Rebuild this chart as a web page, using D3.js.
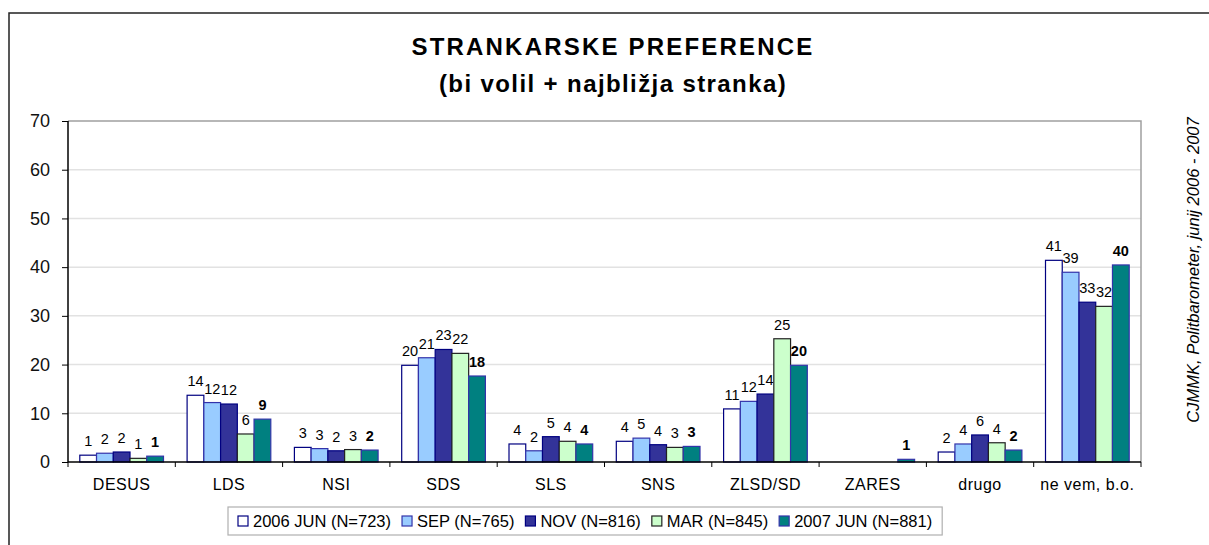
<!DOCTYPE html>
<html>
<head>
<meta charset="utf-8">
<script src="https://cdn.jsdelivr.net/npm/d3@7.9.0/dist/d3.min.js"></script>
<style>
  body { margin: 0; background: #fff; }
  svg { display: block; font-family: Arial, "Liberation Sans", sans-serif; }
</style>
</head>
<body>
<svg id="chart" width="1209" height="545"></svg>
<script>
// categories and series
const categories = ['DESUS', 'LDS', 'NSI', 'SDS', 'SLS', 'SNS', 'ZLSD/SD', 'ZARES', 'drugo', 'ne vem, b.o.'];
const seriesNames = ['2006 JUN (N=723)', 'SEP (N=765)', 'NOV (N=816)', 'MAR (N=845)', '2007 JUN (N=881)'];
const jun2006 = [1.4, 13.7, 3.0, 19.85, 3.7, 4.25, 10.9, null, 2.05, 41.4];
const sep2006 = [1.8, 12.2, 2.75, 21.4, 2.3, 4.9, 12.45, null, 3.7, 38.95];
const nov2006 = [2.05, 11.9, 2.3, 23.1, 5.2, 3.55, 13.95, null, 5.55, 32.8];
const mar2007 = [0.75, 5.75, 2.55, 22.3, 4.25, 3.0, 25.3, null, 3.95, 31.95];
const jun2007 = [1.2, 8.8, 2.45, 17.65, 3.7, 3.2, 19.85, 0.55, 2.45, 40.45];
const yTicks = [0, 10, 20, 30, 40, 50, 60, 70];

const seriesValues = [jun2006, sep2006, nov2006, mar2007, jun2007];
const fills = ['#ffffff', '#99ccff', '#333399', '#ccffcc', '#008080'];
const strokes = ['#000080', '#3333aa', '#000080', '#222222', '#3333aa'];

const svg = d3.select('#chart');
const margin = { left: 68, top: 121, right: 1141, bottom: 462 };

// outer frame (runs past the right and bottom edge)
svg.append('rect')
  .attr('x', 9).attr('y', 13).attr('width', 1220).attr('height', 560)
  .attr('fill', 'none').attr('stroke', '#222').attr('stroke-width', 1.5);

// titles
svg.append('text').attr('x', 613).attr('y', 55).attr('text-anchor', 'middle')
  .attr('font-size', 24).attr('font-weight', 'bold').attr('letter-spacing', 2.2)
  .text('STRANKARSKE PREFERENCE');
svg.append('text').attr('x', 613).attr('y', 92).attr('text-anchor', 'middle')
  .attr('font-size', 24).attr('font-weight', 'bold').attr('letter-spacing', 1.4)
  .text('(bi volil + najbližja stranka)');

const x0 = d3.scaleBand().domain(categories)
  .range([margin.left, margin.right]).paddingInner(0.22).paddingOuter(0.11);
const x1 = d3.scaleBand().domain(d3.range(seriesNames.length))
  .range([0, x0.bandwidth()]);
const y = d3.scaleLinear().domain([0, 70]).range([margin.bottom, margin.top]);

// gridlines
svg.append('g').selectAll('line').data(yTicks.filter(t => t > 0 && t < 70)).join('line')
  .attr('x1', margin.left).attr('x2', margin.right)
  .attr('y1', d => y(d)).attr('y2', d => y(d))
  .attr('stroke', '#e2e2e2').attr('stroke-width', 1.5);

// plot area border top/right
svg.append('path')
  .attr('d', `M${margin.left},${y(70)}H${margin.right}V${margin.bottom}`)
  .attr('fill', 'none').attr('stroke', '#a0a0a0').attr('stroke-width', 1.5);

// bars
const groups = svg.append('g').selectAll('g').data(categories).join('g')
  .attr('transform', d => `translate(${x0(d)},0)`);

seriesValues.forEach((vals, si) => {
  groups.each(function (cat, ci) {
    const v = vals[ci];
    if (v == null) return;
    const g = d3.select(this);
    g.append('rect')
      .attr('x', x1(si)).attr('width', x1.bandwidth())
      .attr('y', y(v)).attr('height', y(0) - y(v))
      .attr('fill', fills[si]).attr('stroke', strokes[si]).attr('stroke-width', 1.2);
    g.append('text')
      .attr('x', x1(si) + x1.bandwidth() / 2).attr('y', y(v) - 9)
      .attr('text-anchor', 'middle').attr('font-size', 14.5)
      .attr('font-weight', si === 4 ? 'bold' : 'normal')
      .text(Math.round(v));
  });
});

// y axis
const yAxis = svg.append('g').attr('transform', `translate(${margin.left},0)`)
  .call(d3.axisLeft(y).tickValues(yTicks).tickSize(6).tickPadding(12));
yAxis.select('.domain').attr('stroke', '#000').attr('stroke-width', 1.5).attr('d', `M0,${margin.top}V${margin.bottom}`);
yAxis.selectAll('.tick line').attr('stroke', '#000');
yAxis.selectAll('.tick text').attr('font-size', 18).attr('fill', '#111')
  .attr('font-family', 'Arial, "Liberation Sans", sans-serif');

// x axis: baseline and ticks between categories
svg.append('line').attr('x1', margin.left).attr('x2', margin.right)
  .attr('y1', margin.bottom).attr('y2', margin.bottom)
  .attr('stroke', '#000').attr('stroke-width', 1.5);
const step = x0.step();
svg.append('g').selectAll('line').data(d3.range(categories.length + 1)).join('line')
  .attr('x1', i => margin.left + i * step).attr('x2', i => margin.left + i * step)
  .attr('y1', margin.bottom).attr('y2', margin.bottom + 5)
  .attr('stroke', '#000');
svg.append('g').selectAll('text').data(categories).join('text')
  .attr('x', d => x0(d) + x0.bandwidth() / 2).attr('y', 490)
  .attr('text-anchor', 'middle').attr('font-size', 16).attr('letter-spacing', 0.5).text(d => d);

// source note
svg.append('text')
  .attr('transform', 'translate(1199,270) rotate(-90)')
  .attr('text-anchor', 'middle').attr('font-size', 16.5).attr('font-style', 'italic')
  .text('CJMMK, Politbarometer, junij 2006 - 2007');

// legend
const legend = svg.append('g');
const legendBox = legend.append('rect')
  .attr('fill', '#fff').attr('stroke', '#b0b0b0').attr('stroke-width', 1.2);
let lx = 0;
seriesNames.forEach((name, i) => {
  const item = legend.append('g').attr('transform', `translate(${lx},0)`);
  item.append('rect').attr('x', 0).attr('y', -11).attr('width', 10).attr('height', 10)
    .attr('fill', fills[i]).attr('stroke', strokes[i]).attr('stroke-width', 1.2);
  const t = item.append('text').attr('x', 15).attr('y', 0).attr('font-size', 16.5).text(name);
  lx += 15 + t.node().getComputedTextLength() + 11;
});
const legendWidth = lx - 11;
const legendLeft = 238;
legend.attr('transform', `translate(${legendLeft},527)`);
legendBox.attr('x', -10).attr('y', -20).attr('width', legendWidth + 20).attr('height', 28);
</script>
</body>
</html>
